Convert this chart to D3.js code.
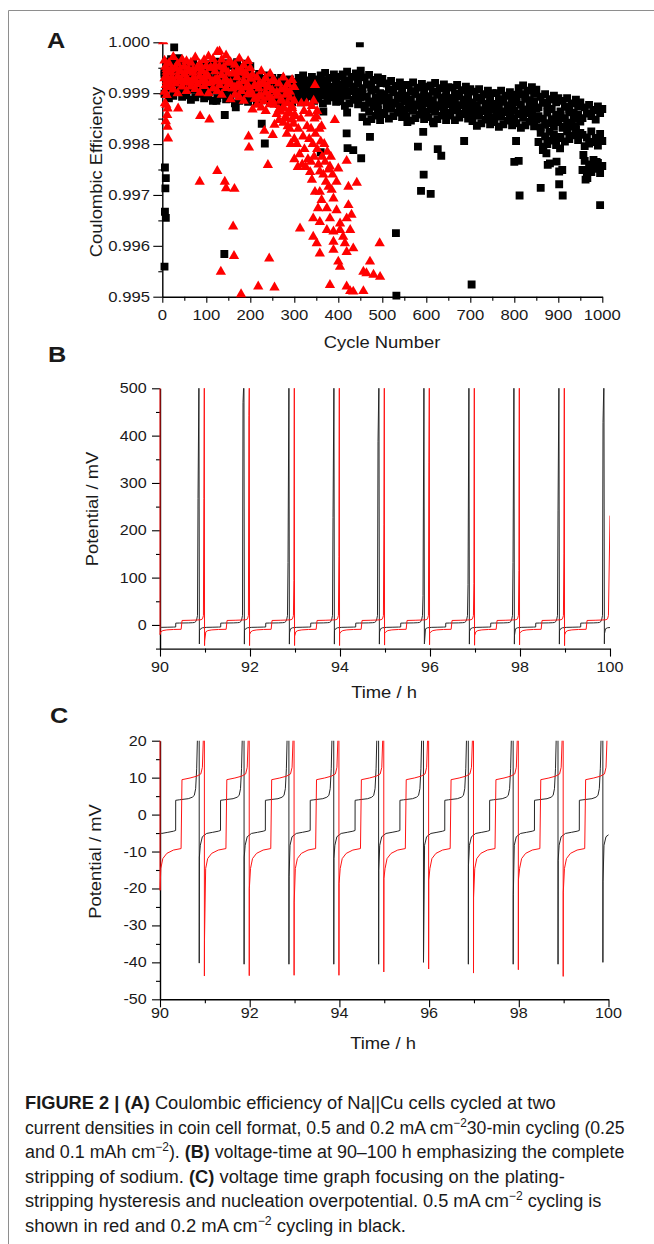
<!DOCTYPE html>
<html>
<head>
<meta charset="utf-8">
<script src="https://cdn.jsdelivr.net/npm/d3@7"></script>
<style>
body { margin: 0; background: #fff; }
svg text { font-family: "Liberation Sans", Arial, sans-serif; fill: #1a1a1a; }
</style>
</head>
<body>
<svg id="fig" width="654" height="1244"></svg>
<script>
// ---------- panel A : coulombic efficiency, values as loss in ppm (CE = 1 - ppm/1e6)
var bandCycles = d3.range(5, 1001, 5);   // cycle numbers of the band rows

var blackHi = [
 590,380,500,330,550,430,620,360,490,410, 680,470,590,420,640,520,710,450,580,500,
 640,430,550,380,600,480,670,410,540,460, 650,440,560,390,610,490,680,420,550,470,
 880,670,790,620,840,720,910,650,780,700, 960,750,870,700,920,800,990,730,860,780,
 910,700,820,650,870,750,940,680,810,730, 860,650,770,600,820,700,890,630,760,680,
 840,630,750,580,800,680,870,610,740,660, 900,690,830,640,880,740,930,690,800,720,
 1020,810,930,760,980,860,1050,790,920,840, 1050,840,960,790,1010,890,1080,820,950,870,
 1060,850,970,800,1020,900,1090,830,960,880, 1100,890,1010,840,1060,940,1130,870,1000,920,
 1180,970,1090,920,1140,1020,1210,950,1080,1000, 1210,1000,1120,950,1170,1050,1240,980,1110,1030,
 1110,900,1020,850,1070,950,1140,880,1010,930, 1280,1070,1190,1020,1240,1120,1310,1050,1180,1100,
 1360,1150,1270,1100,1320,1200,1390,1130,1260,1180, 1490,1280,1400,1230,1450,1330,1520,1260,1390,1310];

var blackMid = [
 630,850,680,800,560,770,690,840,610,750, 690,910,740,860,620,830,750,900,670,810,
 680,900,730,850,610,820,740,890,660,800, 705,925,755,875,635,845,765,915,685,825,
 825,1045,875,995,755,965,885,1035,805,945, 865,1085,915,1035,795,1005,925,1075,845,985,
 830,1050,880,1000,760,970,890,1040,810,950, 815,1035,865,985,745,955,875,1025,795,935,
 840,1040,870,1010,770,960,900,1030,800,960, 1020,1240,1070,1190,950,1160,1080,1230,1000,1140,
 1045,1265,1095,1215,975,1185,1105,1255,1025,1165, 1080,1300,1130,1250,1010,1220,1140,1290,1060,1200,
 1095,1315,1145,1265,1025,1235,1155,1305,1075,1215, 1100,1320,1150,1270,1030,1240,1160,1310,1080,1220,
 1195,1415,1245,1365,1125,1335,1255,1405,1175,1315, 1220,1440,1270,1390,1150,1360,1280,1430,1200,1340,
 1180,1400,1230,1350,1110,1320,1240,1390,1160,1300, 1450,1670,1500,1620,1380,1590,1510,1660,1430,1570,
 1440,1660,1490,1610,1370,1580,1500,1650,1420,1560, 1820,2040,1870,1990,1750,1960,1880,2030,1800,1940];

var blackLo = [
 1010,830,1100,900,1050,810,980,870,1070,930, 1040,860,1130,930,1080,840,1010,900,1100,960,
 1060,880,1150,950,1100,860,1030,920,1120,980, 1110,930,1200,1000,1150,910,1080,970,1170,1030,
 1100,940,1190,1010,1140,920,1070,980,1160,1040, 1120,920,1210,990,1160,900,1090,960,1180,1020,
 1090,910,1180,980,1130,890,1060,950,1150,1010, 1110,930,1200,1000,1150,910,1080,970,1170,1030,
 1160,980,1250,1050,1200,960,1130,1020,1220,1080, 1470,1290,1560,1360,1510,1270,1440,1330,1530,1390,
 1410,1230,1500,1300,1450,1210,1380,1270,1470,1330, 1450,1270,1540,1340,1490,1250,1420,1310,1510,1370,
 1470,1290,1560,1360,1510,1270,1440,1330,1530,1390, 1440,1260,1530,1330,1480,1240,1410,1300,1500,1360,
 1550,1370,1640,1440,1590,1350,1520,1410,1610,1470, 1570,1390,1660,1460,1610,1370,1540,1430,1630,1490,
 1590,1410,1680,1480,1630,1390,1560,1450,1650,1510, 1960,1780,2050,1850,2000,1760,1930,1820,2020,1880,
 1860,1680,1950,1750,1900,1660,1830,1720,1920,1780, 2510,2330,2600,2400,2550,2310,2480,2370,2570,2430];

var blackScatter = [
 [6,2460],[8,2670],[7,2870],[6,3330],[8,3450],[5,4410],[27,100],[36,310],[141,4160],[142,1430],
 [167,1280],[123,1150],[226,1600],[233,1990],[360,2160],[366,1360],[420,1380],[419,1790],[421,2080],
 [434,2120],[452,2280],[472,1860],[449,20],[451,560],[531,3750],[532,4980],[557,1570],[581,2050],[593,1760],
 [594,2600],[588,2920],[610,2980],[617,1590],[626,2100],[634,2230],[686,1940],[703,4760],[804,1940],
 [800,2350],[810,2330],[812,3010],[860,2860],[865,2120],[876,2410],[902,2540],[902,2790],[910,3010],
 [962,2700],[966,2670],[995,3200],[866,2084],[873,2180],[881,2380],[896,2346],[904,2084],[909,2510],
 [957,2215],[968,2540],[980,2480],[987,2350],[990,1900]];

var redCycles = d3.range(5, 301, 5);
var redHi = [
 360,580,410,530,290,500,420,570,340,480, 370,570,400,540,300,490,430,560,350,470,
 280,500,330,450,190,180,340,490,260,400, 390,610,440,560,320,530,450,600,370,510,
 640,860,690,810,570,780,700,850,620,760, 760,980,810,930,690,900,820,970,740,880];
var redMid = [
 705,525,795,595,745,505,675,565,765,625, 700,530,790,600,740,510,670,570,760,630,
 680,500,770,570,720,480,650,540,740,600, 795,615,885,685,835,595,765,655,855,715,
 1020,840,1110,910,1060,820,990,880,1080,940, 1230,1050,1320,1120,1270,1030,1200,1090,1290,1150];
var redLo = [
 970,760,880,710,930,810,1000,740,870,790, 960,770,870,720,920,820,990,750,860,800,
 1000,790,910,740,960,840,1030,770,900,820, 1120,910,1030,860,1080,960,1150,890,1020,940,
 1320,1110,1230,1060,1280,1160,1350,1090,1220,1140, 1620,1410,1530,1360,1580,1460,1650,1390,1520,1440];

var redScatter = [
 [2,-20],[7,480],[9,670],[8,840],[10,1035],[9,1230],[11,1430],[8,1550],[12,1660],[13,1890],[6,1200],[12,1300],
 [36,1300],[86,1450],[107,1520],[85,2740],[125,2530],[142,2740],[145,2870],[164,2880],[161,3620],[163,4200],
 [133,4510],[179,4950],[218,4800],[255,4820],[243,4250],[196,1850],[197,2070],[232,1740],[251,1820],[240,2410],
 [313,3660],
 [271,1150],[276,1300],[281,1500],[286,1400],[290,1700],[294,1250],[298,1600],[300,1900],[303,1450],[306,2000],
 [309,1700],[312,2200],[315,1500],[318,2400],[320,1850],[323,2100],[326,2450],[329,1650],[331,2300],[334,1900],
 [336,2550],[283,1800],[292,2000],[300,2300],[308,2450],[316,1200],[322,1350],[328,1200],[334,1400],[340,1250],
 [346,1500],[351,1460],[347,840],
 [338,1700],[342,2000],[345,2250],[348,1800],[352,2100],[355,2400],[357,1700],[360,1950],[363,2250],[366,2600],
 [368,2000],[370,2350],[375,2150],[378,2500],[383,2250],[387,2600],[362,1650],[352,1350],[344,1150],[338,2350],
 [392,1530],[381,2440],[400,2480],[340,2700],[358,2540],[372,2740],[396,2740],[419,2330],[442,2760],[423,2840],
 [378,2840],[358,2940],[385,2900],[347,2940],[389,3070],[362,3100],[423,3200],[374,3260],[354,3260],[396,3300],
 [430,3390],[343,3460],[381,3460],[419,3460],[358,3530],[404,3560],[374,3690],[404,3690],[427,3690],[389,3720],
 [343,3820],[411,3820],[351,3950],[389,3920],[415,3950],[494,3950],[358,4150],[389,4080],[419,4120],[434,4050],
 [472,4310],[400,4310],[404,4410],[457,4510],[464,4540],[480,4570],[495,4610],[381,4770],[419,4800],[427,4890],
 [434,4900],[457,4890]];

var cycleTicks = [0,100,200,300,400,500,600,700,800,900,1000];
var cycleMinor = [50,150,250,350,450,550,650,750,850,950];
var ceTicks = [0.995,0.996,0.997,0.998,0.999,1.000];
var ceMinor = [0.9955,0.9965,0.9975,0.9985,0.9995];

// ---------- panels B, C : potential vs time (mV, h)
var blackStartT = [90.0, 90.04, 90.175, 90.30, 90.349];
var blackStartMv = [-4.9, -5.1, -4.8, -4.5, -4.3];
var blackStepTime = [90.35,91.35,92.35,93.35,94.35,95.35,96.35,97.35,98.35,99.35];
var blackDipTime = [90.875,91.875,92.875,93.875,94.875,95.875,96.875,97.875,98.875,99.875];
var blackDipMv = [-40.2,-40.5,-40.5,-40.5,-40.5,-40.0,-40.5,-40.5,-40.5,-40.0];
var blackRecoverMv = [-11.5,-11.5,-16.7,-11.9,-15.1,-36.9,-13.7,-21.7,-12.4,-18.2];
var blackSpikeMv = [267,470,132,227,387,62,85,132,241,428];
var blackStripOff = [0, 0.08, 0.28, 0.37, 0.415, 0.445, 0.468, 0.483];
var blackStripMv = [3.86, 4.0, 4.3, 4.7, 5.2, 7.0, 12.4, 20];
var blackPlateOff = [0.024, 0.069, 0.165, 0.30, 0.425, 0.474];
var blackPlateMv = [-8.3, -6.0, -5.1, -4.8, -4.5, -4.3];

var redStartT = [90.0, 90.001, 90.018, 90.063, 90.152, 90.30, 90.47];
var redStartMv = [520, -20.5, -14.6, -11.9, -10.5, -9.6, -9.2];
var redStepTime = [90.49,91.49,92.49,93.49,94.49,95.49,96.49,97.49,98.49,99.49];
var redDipTime = [90.99,91.99,92.99,93.99,94.99,95.99,96.99,97.99,98.99];
var redDipMv = [-43.7,-43.6,-43.5,-43.5,-42.6,-41.8,-42.9,-42.0,-43.8];
var redRecoverMv = [-34,-20,-23.7,-18.7,-17.3,-17.7,-22.5,-17.6,-21];
var redSpikeMv = [267,442,94,144,213,344,88,115,150];
var redEndMv = 231;
var redStripOff = [0, 0.18, 0.33, 0.42, 0.455, 0.475];
var redStripMv = [9.45, 9.9, 10.4, 11.0, 12.8, 20];
var redPlateOff = [0.028, 0.073, 0.162, 0.31, 0.48];
var redPlateMv = [-14.6, -11.9, -10.5, -9.6, -9.2];

var timeTicks = [90,92,94,96,98,100];
var timeMinor = [91,93,95,97,99];
var potTicksB = [0,100,200,300,400,500];
var potMinorB = [-50,50,150,250,350,450];
var potTicksC = [-50,-40,-30,-20,-10,0,10,20];
var potMinorC = [-45,-35,-25,-15,-5,5,15];

var captionLines = [
 [["FIGURE 2 | (A)","b"],[" Coulombic efficiency of Na||Cu cells cycled at two",""]],
 [["current densities in coin cell format, 0.5 and 0.2 mA cm",""],["\u22122","s"],["30-min cycling (0.25",""]],
 [["and 0.1 mAh cm",""],["\u22122","s"],["). ",""],["(B)","b"],[" voltage-time at 90\u2013100 h emphasizing the complete",""]],
 [["stripping of sodium. ",""],["(C)","b"],[" voltage time graph focusing on the plating-",""]],
 [["stripping hysteresis and nucleation overpotential. 0.5 mA cm",""],["\u22122","s"],[" cycling is",""]],
 [["shown in red and 0.2 mA cm",""],["\u22122","s"],[" cycling in black.",""]]];
var captionRight = [556, 625, 625, 565, 602, 406];

// ---------- drawing
var SX = 1.15;
var svg = d3.select("#fig");
svg.append("rect").attr("width", 654).attr("height", 1244).attr("fill", "#fff");
svg.append("path").attr("d", "M8.5,1244V10.5H654").attr("fill", "none")
  .attr("stroke", "#8e8e8e").attr("stroke-width", 1);

function axes(g, x, y, o) {
  var bottom = y.range()[0];
  var left = x.range()[0];
  function fix(a) {
    a.selectAll("text").remove();
    a.selectAll(".tick line").attr("stroke", "#000").attr("stroke-width", 1.1);
    a.select(".domain").attr("stroke", "#000").attr("stroke-width", 1.4);
  }
  g.append("g").attr("transform", "translate(0," + bottom + ")")
    .call(d3.axisBottom(x).tickValues(o.xMinor).tickSize(o.minor).tickSizeOuter(0))
    .call(fix).select(".domain").remove();
  g.append("g").attr("transform", "translate(" + left + ",0)")
    .call(d3.axisLeft(y).tickValues(o.yMinor).tickSize(o.minor).tickSizeOuter(0))
    .call(fix).select(".domain").remove();
  g.append("g").attr("transform", "translate(0," + bottom + ")")
    .call(d3.axisBottom(x).tickValues(o.xMajor).tickSize(o.xLen).tickSizeOuter(0)).call(fix);
  g.append("g").attr("transform", "translate(" + left + ",0)")
    .call(d3.axisLeft(y).tickValues(o.yMajor).tickSize(o.yLen).tickSizeOuter(0)).call(fix);

  g.selectAll("text.xl").data(o.xMajor).join("text").attr("class", "xl")
    .attr("text-anchor", "middle").style("font-size", o.fs + "px")
    .attr("transform", function (d) { return "translate(" + x(d) + "," + o.xBase + ") scale(" + SX + ",1)"; })
    .text(o.xFmt);
  g.selectAll("text.yl").data(o.yMajor).join("text").attr("class", "yl")
    .attr("text-anchor", "end").style("font-size", o.fs + "px")
    .attr("transform", function (d) { return "translate(" + o.yRight + "," + (y(d) + 5) + ") scale(" + SX + ",1)"; })
    .text(o.yFmt);
  g.append("text").attr("text-anchor", "middle").style("font-size", "16px")
    .attr("transform", "translate(" + o.xt[0] + "," + o.xt[1] + ") scale(" + SX + ",1)").text(o.xTitle);
  g.append("text").attr("text-anchor", "middle").style("font-size", "16px")
    .attr("transform", "translate(" + o.yt[0] + "," + o.yt[1] + ") rotate(-90) scale(" + SX + ",1)").text(o.yTitle);
  g.append("text").style("font-size", "22px").style("font-weight", "bold")
    .attr("transform", "translate(" + o.lab[0] + "," + o.lab[1] + ") scale(" + SX + ",1)").text(o.letter);
}

// panel A
var xA = d3.scaleLinear().domain([0, 1000]).range([162.3, 602.3]);
var yA = d3.scaleLinear().domain([0.995, 1.0]).range([296.7, 42.3]);
var gA = svg.append("g");
axes(gA, xA, yA, {
  xMajor: cycleTicks, xMinor: cycleMinor, yMajor: ceTicks, yMinor: ceMinor,
  xLen: 6, yLen: 9, minor: 4, fs: 14.5, xBase: 320, yRight: 150,
  xFmt: d3.format("d"), yFmt: d3.format(".3f"),
  xTitle: "Cycle Number", yTitle: "Coulombic Efficiency",
  xt: [382, 348], yt: [102, 172], letter: "A", lab: [47, 48.3]
});
svg.append("clipPath").attr("id", "clipA").append("rect")
  .attr("x", 150).attr("y", 42.3).attr("width", 465).attr("height", 262);
var mA = svg.append("g").attr("clip-path", "url(#clipA)");
var sq = d3.symbol(d3.symbolSquare, 62)();
var tri = d3.symbol(d3.symbolTriangle, 46)();
function ce(ppm) { return 1 - ppm / 1e6; }

var blackPts = [];
[blackHi, blackMid, blackLo].forEach(function (row) {
  row.forEach(function (v, i) { blackPts.push([bandCycles[i], v]); });
});
blackPts = blackPts.concat(blackScatter);
var redPts = [];
[redHi, redMid, redLo].forEach(function (row) {
  row.forEach(function (v, i) { redPts.push([redCycles[i], v]); });
});
redPts = redPts.concat(redScatter);

mA.selectAll("path.bk").data(blackPts).join("path").attr("class", "bk").attr("d", sq).attr("fill", "#000")
  .attr("transform", function (d) { return "translate(" + xA(d[0]) + "," + yA(ce(d[1])) + ")"; });
mA.selectAll("path.rd").data(redPts).join("path").attr("class", "rd").attr("d", tri).attr("fill", "#ff0000")
  .attr("transform", function (d) { return "translate(" + xA(d[0]) + "," + yA(ce(d[1])) + ")"; });

// build voltage traces
function blackTrace() {
  var p = blackStartT.map(function (t, i) { return [t, blackStartMv[i]]; });
  blackStepTime.forEach(function (s, k) {
    blackStripOff.forEach(function (o, j) { p.push([s + o, blackStripMv[j]]); });
    p.push([s + 0.495, blackSpikeMv[k]]);
    p.push([s + 0.515, 520]);
    var td = blackDipTime[k];
    p.push([td, blackDipMv[k]]);
    p.push([td + 0.003, blackRecoverMv[k]]);
    blackPlateOff.forEach(function (o, j) { p.push([td + o, blackPlateMv[j]]); });
  });
  return p;
}
function redTrace() {
  var p = redStartT.map(function (t, i) { return [t, redStartMv[i]]; });
  redStepTime.forEach(function (s, k) {
    redStripOff.forEach(function (o, j) { p.push([s + o, redStripMv[j]]); });
    if (k < redDipTime.length) {
      p.push([s + 0.485, redSpikeMv[k]]);
      p.push([s + 0.495, 520]);
      var td = redDipTime[k];
      p.push([td, redDipMv[k]]);
      p.push([td + 0.002, redRecoverMv[k]]);
      redPlateOff.forEach(function (o, j) { p.push([td + o, redPlateMv[j]]); });
    } else {
      p.push([100.0, redEndMv]);
    }
  });
  return p;
}
var blackV = blackTrace(), redV = redTrace();

function voltagePanel(id, x, y, o) {
  var g = svg.append("g");
  axes(g, x, y, o);
  svg.append("clipPath").attr("id", id).append("rect")
    .attr("x", x.range()[0] - 1).attr("y", y.range()[1])
    .attr("width", x.range()[1] - x.range()[0] + 1).attr("height", y.range()[0] - y.range()[1]);
  var line = d3.line().x(function (d) { return x(d[0]); }).y(function (d) { return y(d[1]); });
  var lg = svg.append("g").attr("clip-path", "url(#" + id + ")").attr("fill", "none").attr("stroke-width", 1);
  lg.append("path").attr("d", line(blackV)).attr("stroke", "#262626");
  lg.append("path").attr("d", line(redV)).attr("stroke", "#ff1414");
}

var xB = d3.scaleLinear().domain([90, 100]).range([160, 610]);
var yB = d3.scaleLinear().domain([-50, 500]).range([648.6, 388.3]);
voltagePanel("clipB", xB, yB, {
  xMajor: timeTicks, xMinor: timeMinor, yMajor: potTicksB, yMinor: potMinorB,
  xLen: 8, yLen: 8, minor: 4, fs: 14, xBase: 672, yRight: 146.7,
  xFmt: d3.format("d"), yFmt: d3.format("d"),
  xTitle: "Time / h", yTitle: "Potential / mV",
  xt: [384, 698], yt: [98, 509], letter: "B", lab: [48, 361.7]
});

var xC = d3.scaleLinear().domain([90, 100]).range([160, 608.5]);
var yC = d3.scaleLinear().domain([-50, 20]).range([999.3, 740.7]);
voltagePanel("clipC", xC, yC, {
  xMajor: timeTicks, xMinor: timeMinor, yMajor: potTicksC, yMinor: potMinorC,
  xLen: 8, yLen: 8, minor: 4, fs: 14, xBase: 1018, yRight: 146.7,
  xFmt: d3.format("d"), yFmt: function (d) { return d < 0 ? "-" + (-d) : String(d); },
  xTitle: "Time / h", yTitle: "Potential / mV",
  xt: [383, 1049], yt: [101, 861.5], letter: "C", lab: [50, 722.5]
});

// caption
var capG = svg.append("g");
captionLines.forEach(function (segs, i) {
  var base = 1109 + i * 24.5;
  var t = capG.append("text").attr("x", 0).attr("y", 0).style("font-size", "18px").attr("fill", "#231f20");
  segs.forEach(function (s, j) {
    var ts = t.append("tspan").text(s[0]);
    if (s[1] === "b") ts.style("font-weight", "bold");
    if (s[1] === "s") ts.style("font-size", "12px").attr("dy", -7);
    if (j > 0 && segs[j - 1][1] === "s") ts.attr("dy", 7);
  });
  var w = t.node().getComputedTextLength();
  var sx = (captionRight[i] - 25) / w;
  t.attr("transform", "translate(25," + base + ") scale(" + sx + ",1)");
});
</script>
</body>
</html>
